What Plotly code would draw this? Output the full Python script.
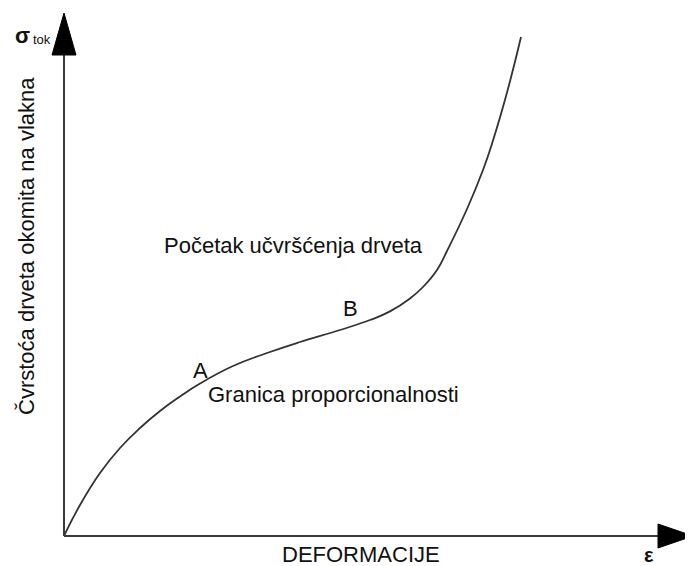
import plotly.graph_objects as go

# Curve (deformation, stress) in arbitrary units
deformation = [0, 16, 36, 56, 76, 96, 116, 136, 169, 203, 236, 276, 306, 326, 346, 359, 373, 383, 403, 419, 429, 443, 457]
stress = [0, 31, 63, 88, 108, 125, 139.5, 152.5, 170, 183, 194, 206, 216, 224.6, 237.5, 249, 266, 285, 327, 366, 395.5, 443.5, 499]

x_axis_end = 629
y_axis_end = 523

labels = {
    "title_upper": "Početak učvršćenja drveta",
    "point_b": "B",
    "point_a": "A",
    "lower": "Granica proporcionalnosti",
    "x_title": "DEFORMACIJE",
    "x_symbol": "ε",
    "y_title": "Čvrstoća drveta okomita na vlakna",
}

FONT = "Liberation Sans, Arial, sans-serif"
AX = "#3a3a3a"

fig = go.Figure()
fig.add_trace(go.Scatter(
    x=deformation, y=stress, mode="lines",
    line=dict(color="#333333", width=1.8, shape="spline", smoothing=1.3),
    hoverinfo="skip", showlegend=False,
))

shapes = [
    dict(type="line", x0=0, y0=0, x1=0, y1=y_axis_end - 42, line=dict(color=AX, width=2)),
    dict(type="line", x0=0, y0=0, x1=x_axis_end - 35, y1=0, line=dict(color=AX, width=2)),
    dict(type="path", path=f"M -12 {y_axis_end-42} L 12 {y_axis_end-42} L 0 {y_axis_end} Z",
         fillcolor="black", line=dict(color="black", width=1)),
    dict(type="path", path=f"M {x_axis_end-35} 12 L {x_axis_end-35} -12 L {x_axis_end} 0 Z",
         fillcolor="black", line=dict(color="black", width=1)),
]
for s in shapes:
    s["xref"] = "x"
    s["yref"] = "y"
    s["layer"] = "above"

def ann(text, x, y, size=22, **kw):
    d = dict(text=text, x=x, y=y, xref="x", yref="y", showarrow=False,
             font=dict(family=FONT, size=size, color="#111111"))
    d.update(kw)
    return d

annotations = [
    ann(labels["title_upper"], 229, 291),
    ann(labels["point_b"], 286, 228),
    ann(labels["point_a"], 136, 166),
    ann(labels["lower"], 269, 142),
    ann(labels["x_title"], 297, -18),
    ann("<b>" + labels["x_symbol"] + "</b>", 585, -19, size=20),
    ann(labels["y_title"], -38, 290, size=22, textangle=-90),
    ann("<b>σ</b>", -42, 501, size=22),
    ann("tok", -22, 497, size=13),
]

# The page body adds an 8px margin, so the figure is sized and ranged to fit the window
fig.update_layout(
    width=685, height=558,
    margin=dict(l=0, r=0, t=0, b=0),
    paper_bgcolor="white", plot_bgcolor="white",
    xaxis=dict(range=[-56, 629], visible=False, fixedrange=True),
    yaxis=dict(range=[-30, 528], visible=False, fixedrange=True),
    shapes=shapes,
    annotations=annotations,
)

fig.write_html("out.html")
